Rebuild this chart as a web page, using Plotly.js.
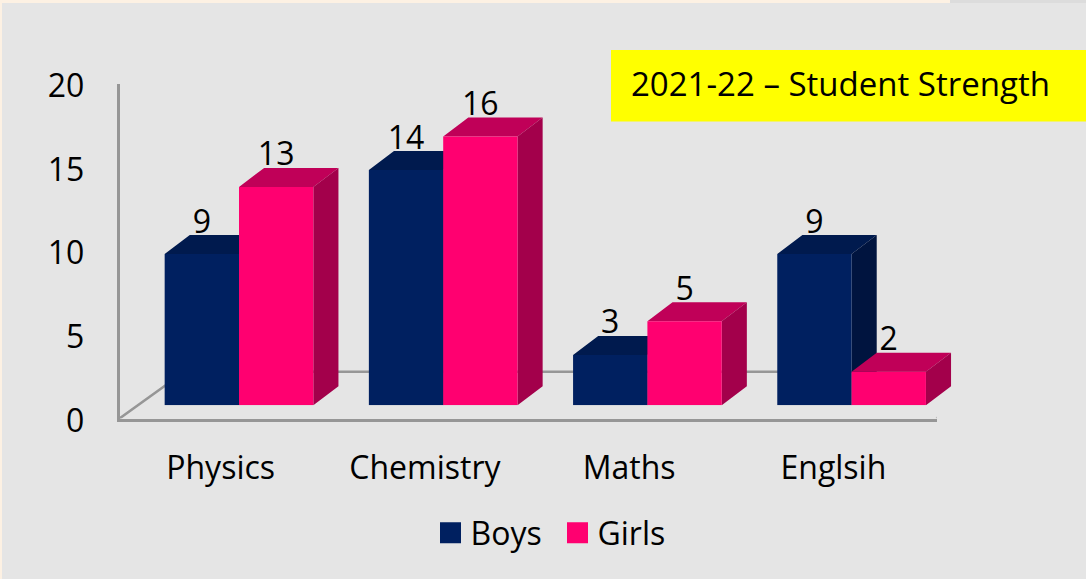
<!DOCTYPE html>
<html>
<head>
<meta charset="utf-8">
<script src="https://cdn.plot.ly/plotly-3.0.1.min.js"></script>
<style>html,body{margin:0;padding:0;background:#fdf1e3}#chart{width:1086px;height:579px}</style>
</head>
<body>
<div id="chart"></div>
<script>
const categories = ["Physics", "Chemistry", "Maths", "Englsih"];
const boys = [9, 14, 3, 9];
const girls = [13, 16, 5, 2];
const yTicks = [0, 5, 10, 15, 20];
const titleText = "2021-22 – Student Strength";

const W = 1086, H = 579;
const fx = p => p / W, fy = p => 1 - p / H;
const FONT = '"Open Sans", sans-serif';
const positions = categories.map((_, i) => i);

const halfGroup = 0.364;   // half of the two-bar group, in category units
const depthX = 0.123;      // bar depth offset, category units
const depthY = 1.13;       // bar depth offset, value units
const labelLift = 0.62;    // label centre above the back edge of the bar top

function poly(list) {
  const xs = [], ys = [];
  list.forEach(pts => { pts.forEach(p => { xs.push(p[0]); ys.push(p[1]); }); xs.push(null); ys.push(null); });
  return {x: xs, y: ys};
}
function topFace(vals, offL, offR) {
  return poly(vals.map((v, i) => [[i + offL, v], [i + offL + depthX, v + depthY], [i + offR + depthX, v + depthY], [i + offR, v], [i + offL, v]]));
}
function sideFace(vals, offR) {
  return poly(vals.map((v, i) => [[i + offR, 0], [i + offR + depthX, depthY], [i + offR + depthX, v + depthY], [i + offR, v], [i + offR, 0]]));
}
function face(geom, color) {
  return {type: 'scatter', mode: 'lines', x: geom.x, y: geom.y, fill: 'toself', fillcolor: color,
          line: {width: 0, color: color}, xaxis: 'x2', yaxis: 'y2', hoverinfo: 'skip', showlegend: false, cliponaxis: false};
}

const floorDX = 0.318, floorDY = 2.8;
const last = categories.length - 0.5;
const floorTrace = {
  type: 'scatter', mode: 'lines', xaxis: 'x', yaxis: 'y', cliponaxis: false, showlegend: false, hoverinfo: 'skip',
  x: [-0.5, -0.5 + floorDX, last + floorDX, last],
  y: [0, floorDY, floorDY, 0],
  line: {color: '#969696', width: 2.5}
};

const NAVY = '#002060', PINK = '#ff0070';

const barTrace = (name, vals, color) => ({
  type: 'bar', name: name, x: positions, y: vals, xaxis: 'x3', yaxis: 'y3',
  marker: {color: color, line: {width: 0}}, showlegend: false, legendgroup: name, hovertemplate: name + ': %{y}<extra></extra>'
});
const legendProxy = (name, color) => ({
  type: 'scatter', mode: 'markers', name: name, x: [null], y: [null], xaxis: 'x3', yaxis: 'y3', legendgroup: name,
  marker: {symbol: 'square', size: 16, color: color, line: {color: color, width: 5}}
});
const labels = (vals, off) => ({
  type: 'scatter', mode: 'text', x: positions.map(i => i + off), y: vals.map(v => v + depthY + labelLift),
  text: vals.map(String), textposition: 'middle center', textfont: {family: FONT, size: 32, color: '#000'},
  xaxis: 'x3', yaxis: 'y3', cliponaxis: false, showlegend: false, hoverinfo: 'skip'
});

const traces = [
  floorTrace,
  face(topFace(boys, -halfGroup, 0), '#001a4e'),
  face(sideFace(boys, 0), '#00143f'),
  face(topFace(girls, 0, halfGroup), '#c00058'),
  face(sideFace(girls, halfGroup), '#a3004b'),
  barTrace('Boys', boys, NAVY),
  barTrace('Girls', girls, PINK),
  labels(boys, -halfGroup / 2),
  labels(girls, halfGroup / 2),
  legendProxy('Boys', NAVY),
  legendProxy('Girls', PINK)
];

const hidden = {visible: false, fixedrange: true};
const barXDomain = [fx(136.9), fx(136.9 + 816.8)];
const barYDomain = [fy(405.3), fy(405.3 - 336)];
const xRange = [-0.5, categories.length - 0.5];

const layout = {
  width: W, height: H,
  margin: {l: 0, r: 0, t: 0, b: 0},
  paper_bgcolor: '#fdf1e3',
  plot_bgcolor: 'rgba(0,0,0,0)',
  font: {family: FONT, size: 32, color: '#000'},
  barmode: 'group', bargap: 0.272, bargroupgap: 0,
  title: {text: titleText, x: fx(631), xanchor: 'left', xref: 'paper', y: fy(84), yanchor: 'middle', yref: 'paper',
          font: {family: FONT, size: 33, color: '#000'}},
  showlegend: true,
  legend: {orientation: 'h', x: fx(430.5), xanchor: 'left', y: fy(533), yanchor: 'middle', bgcolor: 'rgba(0,0,0,0)',
           entrywidth: 82, entrywidthmode: 'pixels',
           font: {family: FONT, size: 32, color: '#000'}, itemclick: false, itemdoubleclick: false, traceorder: 'normal'},
  xaxis: {domain: [fx(119.5), fx(936.5)], range: xRange, tickmode: 'array', tickvals: positions, ticktext: categories,
          showgrid: false, zeroline: false, showline: true, linecolor: '#969696', linewidth: 2.5, ticks: '', ticklabelstandoff: 19,
          ticklabelshift: -1, tickfont: {family: FONT, size: 32}, anchor: 'y', fixedrange: true},
  yaxis: {domain: [fy(418.5), fy(84)], range: [0, 20], tickmode: 'array', tickvals: yTicks, ticktext: yTicks.map(String),
          showgrid: false, zeroline: false, showline: true, linecolor: '#969696', linewidth: 2.5, ticks: '', ticklabelstandoff: 26,
          ticklabelshift: 2, tickfont: {family: FONT, size: 32}, anchor: 'x', fixedrange: true},
  xaxis2: Object.assign({domain: barXDomain, range: xRange, anchor: 'y2'}, hidden),
  yaxis2: Object.assign({domain: barYDomain, range: [0, 20], anchor: 'x2'}, hidden),
  xaxis3: Object.assign({range: xRange, anchor: 'y3', overlaying: 'x2'}, hidden),
  yaxis3: Object.assign({range: [0, 20], anchor: 'x3', overlaying: 'y2'}, hidden),
  shapes: [
    {type: 'rect', xref: 'paper', yref: 'paper', x0: fx(2), x1: 1, y0: 0, y1: fy(3), fillcolor: '#e5e5e5', line: {width: 0}, layer: 'below'},
    {type: 'rect', xref: 'paper', yref: 'paper', x0: fx(950), x1: 1, y0: fy(3), y1: 1, fillcolor: '#dcdcdc', line: {width: 0}, layer: 'below'},
    {type: 'rect', xref: 'paper', yref: 'paper', x0: fx(611), x1: 1, y0: fy(121.5), y1: fy(50), fillcolor: '#ffff00', line: {width: 0}, layer: 'below'}
  ]
};
Plotly.newPlot('chart', traces, layout, {displayModeBar: false, staticPlot: false});
</script>
</body>
</html>
